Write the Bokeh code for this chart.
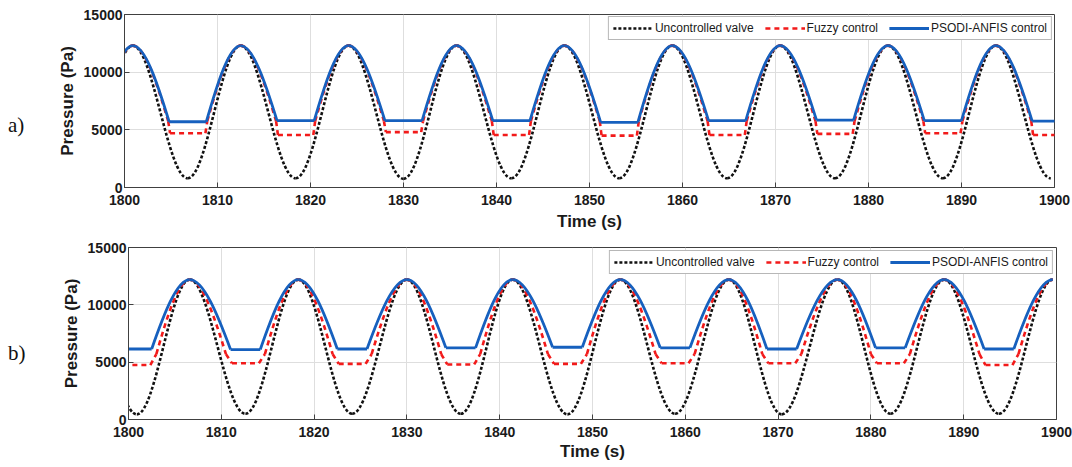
import numpy as np
from bokeh.plotting import figure
from bokeh.layouts import column, row
from bokeh.models import FixedTicker, Range1d, ColumnDataSource, Div
from bokeh.embed import file_html
from bokeh.resources import INLINE

# ---------------- data ----------------
x_ticks = [1800, 1810, 1820, 1830, 1840, 1850, 1860, 1870, 1880, 1890, 1900]
y_ticks = [0, 5000, 10000, 15000]
series_names = ["Uncontrolled valve", "Fuzzy control", "PSODI-ANFIS control"]

# panel a) : pressure maxima (all series share them) and minima of each series
a_peak_time = [1800.9, 1812.5, 1824.1, 1835.7, 1847.3, 1858.9, 1870.5, 1882.1, 1893.7]
a_peak_value = [12300, 12300, 12300, 12300, 12300, 12300, 12300, 12300, 12300]
a_trough_time = [1795.2, 1806.8, 1818.4, 1830.0, 1841.6, 1853.2, 1864.8, 1876.4, 1888.0, 1899.6]
a_uncontrolled_min = [800, 800, 800, 750, 800, 800, 800, 800, 800, 800]
a_fuzzy_min = [4700, 4700, 4550, 4800, 4550, 4500, 4550, 4650, 4700, 4550]
a_psodi_min = [5700, 5700, 5800, 5800, 5800, 5650, 5800, 5850, 5800, 5750]
a_psodi_plateau = 4.0      # duration (s) of the flat minimum
a_fuzzy_plateau = 3.8
a_fuzzy_knee = 5750         # level where the fuzzy curve leaves the PSODI curve
a_fuzzy_knee_span = 4.2

# panel b)
b_peak_time = [1795.0, 1806.6, 1818.3, 1830.0, 1841.4, 1853.0, 1864.7, 1876.4, 1887.9, 1899.6]
b_peak_value = [12200, 12200, 12200, 12200, 12200, 12200, 12200, 12200, 12200, 12200]
b_trough_time = [1800.9, 1812.6, 1824.1, 1835.8, 1847.3, 1858.9, 1870.4, 1882.1, 1893.8]
b_uncontrolled_min = [450, 500, 500, 500, 450, 500, 450, 500, 500]
b_fuzzy_min = [4750, 4900, 4850, 4800, 4850, 4900, 4900, 4900, 4750]
b_psodi_min = [6150, 6100, 6150, 6250, 6300, 6250, 6150, 6250, 6150]
b_psodi_plateau = 3.2
b_fuzzy_plateau = 2.9
b_fuzzy_knee = 5700
b_fuzzy_knee_span = 4.2

# ---------------- styles ----------------
C_BLACK = "#111111"
C_RED = "#f21a1a"
C_BLUE = "#1660be"
FONT = "Liberation Sans"
TAG_W = 30


def bezier_segments(points):
    """points: list of (t, v, kind) ; kind 'peak', 'trough' or 'corner'."""
    cols = {k: [] for k in ("x0", "y0", "x1", "y1", "cx0", "cy0", "cx1", "cy1")}
    for (t0, v0, k0), (t1, v1, k1) in zip(points[:-1], points[1:]):
        dx = t1 - t0
        if k0 in ("peak", "trough") and k1 in ("peak", "trough"):
            c0 = (t0 + 0.363 * dx, v0)
            c1 = (t1 - 0.363 * dx, v1)
        elif k0 == "peak":
            c0 = (t0 + 0.3345 * dx, v0)
            c1 = (t0 + 0.674 * dx, v1 + 0.5122 * (v0 - v1))
        elif k1 == "peak":
            c0 = (t0 + 0.326 * dx, v0 + 0.5122 * (v1 - v0))
            c1 = (t1 - 0.3345 * dx, v1)
        else:
            c0 = (t0 + dx / 3, v0 + (v1 - v0) / 3)
            c1 = (t0 + 2 * dx / 3, v0 + 2 * (v1 - v0) / 3)
        for k, val in zip(("x0", "y0", "x1", "y1", "cx0", "cy0", "cx1", "cy1"),
                          (t0, v0, t1, v1, c0[0], c0[1], c1[0], c1[1])):
            cols[k].append(val)
    return ColumnDataSource(cols)


def uncontrolled_points(peak_t, peak_v, trough_t, trough_v):
    pts = [(t, v, "peak") for t, v in zip(peak_t, peak_v)]
    pts += [(t, v, "trough") for t, v in zip(trough_t, trough_v)]
    return sorted(pts)


def controlled_points(peak_t, peak_v, trough_t, floor_v, plateau, knee_v=None, knee_span=None):
    pts = [(t, v, "peak") for t, v in zip(peak_t, peak_v)]
    for t, f in zip(trough_t, floor_v):
        pts.append((t - plateau / 2, f, "corner"))
        pts.append((t + plateau / 2, f, "corner"))
        if knee_v is not None:
            pts.append((t - knee_span / 2, knee_v, "corner"))
            pts.append((t + knee_span / 2, knee_v, "corner"))
    return sorted(pts)


def make_panel(peak_t, peak_v, trough_t, unc_min, fuz_min, pso_min,
               pso_plateau, fuz_plateau, fuz_knee, fuz_knee_span,
               left, frame_w, right, top, frame_h, bottom, leg_margin,
               tick_standoff, label_standoff):
    p = figure(frame_width=frame_w, frame_height=frame_h,
               min_border_left=left, min_border_right=right,
               min_border_top=top, min_border_bottom=bottom,
               x_range=Range1d(1800, 1900), y_range=Range1d(0, 15000),
               output_backend="svg", toolbar_location=None)
    p.background_fill_color = "white"
    p.border_fill_color = "white"
    p.outline_line_color = "#404040"
    p.outline_line_width = 1

    src_u = bezier_segments(uncontrolled_points(peak_t, peak_v, trough_t, unc_min))
    src_f = bezier_segments(controlled_points(peak_t, peak_v, trough_t, fuz_min,
                                              fuz_plateau, fuz_knee, fuz_knee_span))
    src_p = bezier_segments(controlled_points(peak_t, peak_v, trough_t, pso_min, pso_plateau))
    kw = dict(x0="x0", y0="y0", x1="x1", y1="y1", cx0="cx0", cy0="cy0", cx1="cx1", cy1="cy1")
    p.bezier(source=src_u, line_color=C_BLACK, line_width=2.6, line_dash="3 2",
             legend_label=series_names[0], **kw)
    p.bezier(source=src_f, line_color=C_RED, line_width=2.6, line_dash="5 4",
             legend_label=series_names[1], **kw)
    p.bezier(source=src_p, line_color=C_BLUE, line_width=2.8,
             legend_label=series_names[2], **kw)

    for ax in (p.xaxis[0], p.yaxis[0]):
        ax.axis_line_color = "#404040"
        ax.major_tick_line_color = "#404040"
        ax.major_tick_in = 5
        ax.major_tick_out = 0
        ax.minor_tick_line_color = None
        ax.major_label_text_font = FONT
        ax.major_label_text_font_style = "bold"
        ax.major_label_text_font_size = "14px"
        ax.major_label_text_color = "#1a1a1a"
        ax.axis_label_text_font = FONT
        ax.axis_label_text_font_style = "bold"
        ax.axis_label_text_font_size = "17px"
        ax.axis_label_text_color = "#1a1a1a"
    p.xaxis.ticker = FixedTicker(ticks=x_ticks)
    p.yaxis.ticker = FixedTicker(ticks=y_ticks)
    p.xaxis.axis_label = "Time (s)"
    p.yaxis.axis_label = "Pressure (Pa)"
    p.xaxis.major_label_standoff = tick_standoff
    p.xaxis.axis_label_standoff = label_standoff
    p.yaxis.major_label_standoff = 2
    p.yaxis.axis_label_standoff = 4

    p.xgrid.grid_line_color = "#dedede"
    p.ygrid.grid_line_color = "#dedede"
    p.xgrid.grid_line_width = 1
    p.ygrid.grid_line_width = 1

    lg = p.legend[0]
    lg.location = "top_right"
    lg.orientation = "horizontal"
    lg.margin = leg_margin
    lg.padding = 4
    lg.spacing = 11
    lg.label_standoff = 2
    lg.glyph_width = 40
    lg.glyph_height = 14
    lg.label_height = 14
    lg.label_text_font = FONT
    lg.label_text_font_size = "12px"
    lg.label_text_color = "#1a1a1a"
    lg.border_line_color = "#707070"
    lg.border_line_width = 1
    lg.background_fill_alpha = 1.0
    return p


def tag(text, pad_top, height):
    return Div(text=text, width=TAG_W, height=height, margin=0,
               styles={"font-family": "Liberation Serif", "font-size": "21px",
                       "color": "#111111", "padding-top": f"{pad_top}px",
                       "padding-left": "8px", "line-height": "24px",
                       "box-sizing": "border-box"})


pa = make_panel(a_peak_time, a_peak_value, a_trough_time, a_uncontrolled_min,
                a_fuzzy_min, a_psodi_min, a_psodi_plateau, a_fuzzy_plateau,
                a_fuzzy_knee, a_fuzzy_knee_span,
                124 - TAG_W, 930, 18, 14, 173, 53, 2, 7, 4)
pb = make_panel(b_peak_time, b_peak_value, b_trough_time, b_uncontrolled_min,
                b_fuzzy_min, b_psodi_min, b_psodi_plateau, b_fuzzy_plateau,
                b_fuzzy_knee, b_fuzzy_knee_span,
                128 - TAG_W, 928, 16, 7, 172, 48, 3, 7, 2)

layout = column(row(tag("a)", 113, 240), pa, spacing=0),
                row(tag("b)", 101, 227), pb, spacing=0), spacing=0)
open("out.html", "w").write(file_html(layout, INLINE))
